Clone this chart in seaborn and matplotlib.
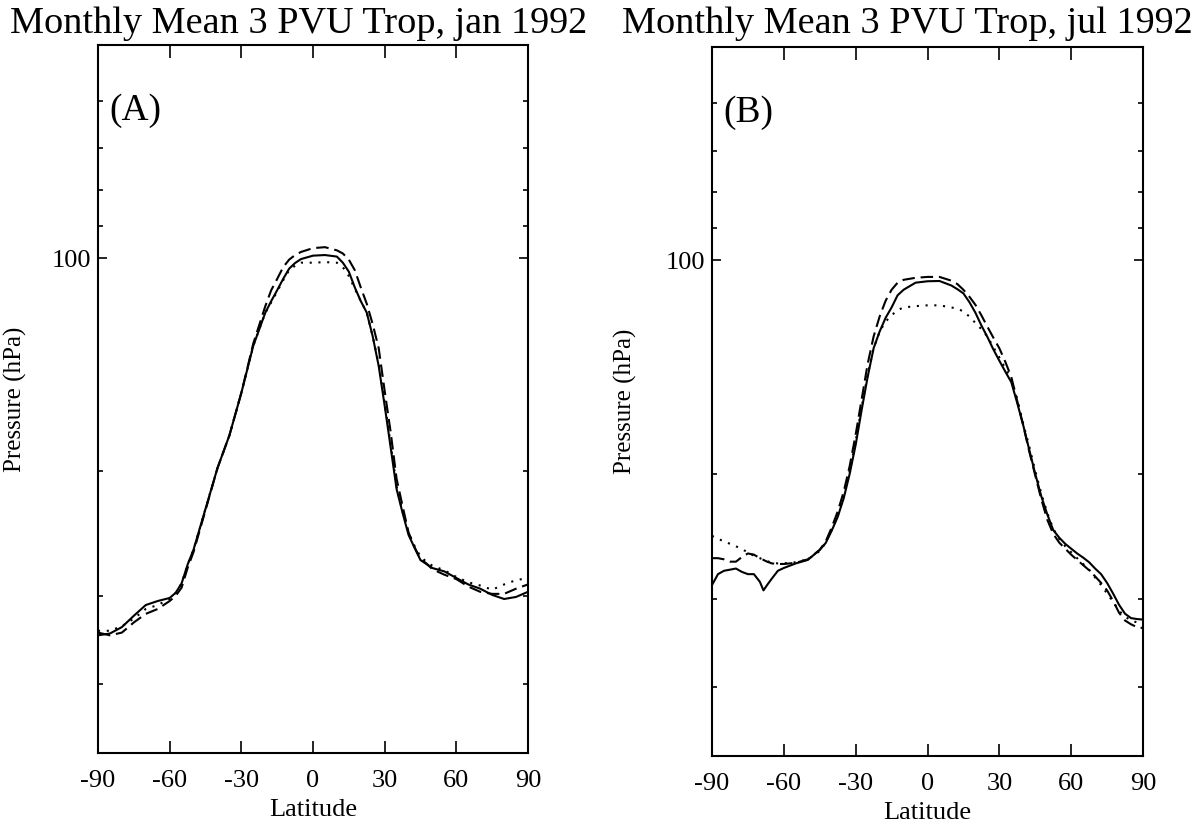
import numpy as np
import pandas as pd
import matplotlib
matplotlib.use("Agg")
import matplotlib.pyplot as plt
import seaborn as sns
from matplotlib.ticker import FixedLocator, NullFormatter, FixedFormatter

# ---------------- data ----------------
jan_lat = [-90, -85, -80, -75, -70, -65, -60,
           -57.5, -55, -52.5, -50,
           -45, -40, -35, -30, -25, -20,
           -17.5, -15, -12.5, -10, -7.5, -5,
           0, 5, 10,
           12.5, 15, 17.5, 20, 22.5, 25, 27.5, 30, 32.5, 35, 37.5, 40, 42.5, 45, 47.5,
           50, 55, 60, 65, 70, 75, 80, 85, 90]
jan_solid = [341, 339, 332, 320, 309, 305, 302,
             297, 288, 271, 258,
             226, 198, 178, 155, 133, 119.5,
             115, 111, 107, 103.5, 101.6, 100.3,
             99.2, 99, 99.5,
             101.5, 104.5, 110, 115, 119.4, 129, 142, 161.6, 185, 212, 229, 246, 256.5, 267, 270.5,
             274, 277, 283, 289, 293, 299, 303, 301, 296]
jan_dotted = [336, 336, 331, 323, 313, 309, 303,
              297, 288, 271, 258,
              226, 198, 178, 155, 133, 119.5,
              115.5, 111.5, 107.5, 104, 102.5, 101.5,
              101.5, 101.3, 101.5,
              103, 106, 110.5, 115, 119.4, 129, 141, 160, 183, 210, 228, 244, 255, 264, 268.5,
              272, 276, 282, 287, 290, 294, 289, 285, 283]
jan_dashed = [338, 341, 338, 327, 318, 313, 305,
              300, 292, 274, 260,
              227, 198, 178, 155, 132, 117,
              111, 107, 103, 100.5, 99, 98,
              96.8, 96.5, 97.5,
              98.5, 100.5, 104, 110, 116, 124, 134, 154, 176, 205, 224, 244, 256, 266, 270,
              275, 280, 284, 291, 296, 298, 298, 293, 289]

jul_lat = [-90, -87.5, -85, -82.5, -80, -77.5, -75, -72.5, -70, -68.5, -67, -65, -62.5, -60,
           -55, -50,
           -45, -42.5, -40, -37.5, -35, -32.5, -30, -27.5, -25, -22.5, -20, -17.5, -15, -12.5, -10,
           -5, 0, 5, 10,
           12.5, 15, 17.5, 20, 22.5, 25, 27.5, 30, 32.5, 35, 37.5, 40, 42.5, 45, 47.5, 50,
           52.5, 55, 57.5, 60, 62.5, 65, 67.5, 70, 72.5, 75, 77.5, 80, 82.5, 85, 87.5, 90]
jul_solid = [287, 277, 274, 273, 272, 275, 277, 277, 284, 292, 287, 281, 274, 271.5,
             267.5, 264.5,
             256, 250.3, 240.5, 230, 216.5, 200, 182, 162.5, 146, 133, 126, 120.5, 116.5, 112, 110,
             107.5, 107, 106.9, 108.5,
             109.8, 111.3, 114.5, 118.5, 123.5, 128.2, 133.5, 138.5, 143.5, 148.5, 159, 170.9,
             185, 200, 215, 228, 240, 246, 251, 255, 259, 262.5, 266.5, 272, 277, 285, 295,
             306, 315, 319.5, 320.5, 321]
jul_dotted = [244.6, 247, 249, 251, 253, 255.5, 258, 261, 263, 264.5, 265.5, 267, 267.5, 267.5,
              266.5, 264,
              257, 250, 240, 229, 215, 198, 180, 161, 145, 133, 126, 122, 119.5, 117.5, 116.5,
              116, 115.7, 115.7, 116.5,
              117, 118, 120, 122.5, 125, 128, 132.5, 137, 142, 147, 157, 170,
              183, 198, 213, 227, 239, 247, 253, 258, 263, 268, 273, 280, 287, 295, 303,
              312, 318, 322, 324, 325]
jul_dashed = [263, 263, 264, 266, 266, 262, 259, 260, 263, 264.5, 266, 267.5, 268, 268,
              267, 264,
              256, 249, 238, 226, 212, 195, 176, 157, 140, 128, 120, 114, 110, 107.5, 106.5,
              105.8, 105.5, 105.5, 106.8,
              108, 110, 112.5, 115.5, 119.5, 124, 128.5, 133, 139, 146, 158, 171,
              186, 201, 217, 232, 243, 250, 255, 260, 264.5, 269, 273.5, 279, 285, 292, 302,
              314, 322, 326, 329, 330]

titles = ["Monthly Mean 3 PVU Trop, jan 1992", "Monthly Mean 3 PVU Trop, jul 1992"]
panel_tags = ["(A)", "(B)"]
xticks = [-90, -60, -30, 0, 30, 60, 90]
ymajor = [100]
yminor = [60, 70, 80, 90, 200, 300, 400]

# ---------------- style ----------------
sns.set_theme(style="ticks", rc={
    "axes.edgecolor": "black", "xtick.color": "black", "ytick.color": "black",
    "text.color": "black", "axes.labelcolor": "black", "axes.linewidth": 1.5,
})
plt.rcParams['font.family'] = ['Liberation Serif', 'DejaVu Serif']


def long_df(lat, solid, dotted, dashed):
    frames = []
    for name, vals in (("solid", solid), ("dotted", dotted), ("dashed", dashed)):
        frames.append(pd.DataFrame({"lat": lat, "p": vals, "kind": name}))
    return pd.concat(frames, ignore_index=True)


data = [long_df(jan_lat, jan_solid, jan_dotted, jan_dashed),
        long_df(jul_lat, jul_solid, jul_dotted, jul_dashed)]

fig = plt.figure(figsize=(11.98, 8.22), dpi=100)
ax_pos = [[98 / 1198, 69 / 822, 430 / 1198, 708 / 822],
          [712 / 1198, 66 / 822, 431 / 1198, 709 / 822]]
title_x = [299 / 1198, 907 / 1198]
ylab_x = [(27 - 98) / 430, (637 - 712) / 431]

dash_map = {"solid": "", "dashed": (6, 2.8), "dotted": (1, 3.2)}

for i in range(2):
    ax = fig.add_axes(ax_pos[i])
    sns.lineplot(data=data[i], x="lat", y="p", style="kind", dashes=dash_map,
                 color="black", linewidth=1.5, estimator=None, sort=False,
                 legend=False, ax=ax)
    ax.set_yscale("log")
    ax.set_xlim(-90, 90)
    ax.set_ylim(500, 50)
    ax.set_xticks(xticks)
    ax.set_xticklabels([str(v) for v in xticks])
    ax.yaxis.set_major_locator(FixedLocator(ymajor))
    ax.yaxis.set_major_formatter(FixedFormatter([str(v) for v in ymajor]))
    ax.yaxis.set_minor_locator(FixedLocator(yminor))
    ax.yaxis.set_minor_formatter(NullFormatter())
    ax.xaxis.set_minor_locator(FixedLocator([]))
    ax.tick_params(which="both", direction="in", top=True, right=True,
                   labelsize=19, width=1.2, colors="black")
    ax.tick_params(axis="x", which="major", length=9, pad=12)
    ax.tick_params(axis="y", which="major", length=6.5, pad=5)
    ax.tick_params(axis="y", which="minor", length=3.5)
    ax.set_xlabel("Latitude", fontsize=19, labelpad=5)
    ax.set_ylabel("Pressure (hPa)", fontsize=18)
    ax.yaxis.set_label_coords(ylab_x[i], 0.5)
    ax.text(0.027, 0.907, panel_tags[i], transform=ax.transAxes, fontsize=27,
            va="center", ha="left")
    fig.text(title_x[i], 1 - 33 / 822, titles[i], fontsize=27.5, ha="center",
             va="baseline")

fig.savefig("out.png", dpi=100)
